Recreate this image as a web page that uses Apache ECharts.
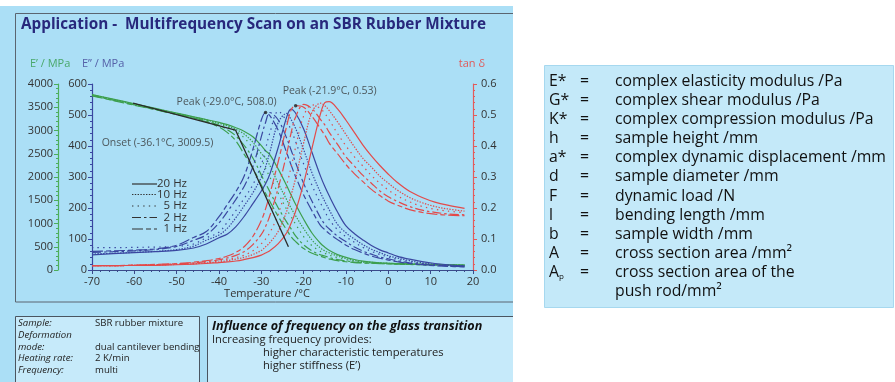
<!DOCTYPE html>
<html>
<head>
<meta charset="utf-8">
<script src="https://cdn.jsdelivr.net/npm/echarts@6/dist/echarts.min.js"></script>
<style>
html,body{margin:0;padding:0;background:#fff;}
#c{width:895px;height:382px;}
</style>
</head>
<body>
<div id="c"></div>
<script>
// ---------- DATA ----------
const temps = [-70,-65,-60,-55,-50,-46,-43,-40,-38,-36,-34,-32,-30,-29,-28,-26,-24,-23,-22,-20,-18,-16,-15,-14,-12,-10,-8,-6,-4,-2,0,2,5,8,11,14,18];

// E' (storage modulus, MPa)
const eStorage20 = [3775,3675,3575,3475,3375,3295,3235,3175,3125,3060,2980,2865,2675,2565,2480,2170,1810,1620,1430,1090,790,570,490,425,330,272,225,190,168,155,146,140,132,125,119,113,108];
const eStorage10 = [3768,3668,3568,3468,3368,3288,3228,3155,3098,3023,2918,2748,2505,2410,2250,1860,1510,1335,1180,890,640,470,410,370,300,245,205,180,164,152,144,137,129,122,116,111,106];
const eStorage5  = [3760,3660,3560,3460,3360,3280,3220,3140,3075,2980,2840,2620,2380,2190,2000,1650,1300,1150,1000,720,520,400,360,320,265,222,185,170,155,147,140,134,126,119,113,109,104];
const eStorage2  = [3752,3652,3552,3452,3352,3272,3202,3110,3017,2882,2672,2410,2040,1860,1685,1335,1030,890,745,540,410,325,300,270,225,195,171,156,148,141,134,128,121,115,111,107,102];
const eStorage1  = [3745,3645,3545,3445,3345,3265,3185,3075,2955,2775,2480,2190,1825,1650,1475,1150,860,720,620,460,360,295,265,240,200,178,160,151,143,137,131,126,119,113,109,105,100];

// E'' (loss modulus, MPa)
const eLoss20 = [49,53,56,59,63,71,84,104,116,140,174,214,255,278,309,396,494,519,508,455,378,302,269,240,187,142,117,97,79,65,55,45,35,27,21,17,13];
const eLoss10 = [52,54,57,60,66,77,96,113,135,169,208,249,299,333,380,476,505,486,460,388,312,249,221,195,147,120,100,82,67,56,46,39,30,23,18,15,12];
const eLoss5  = [72,72,73,74,76,84,104,122,155,192,232,275,340,391,442,512,480,452,418,342,272,215,190,163,130,107,89,73,60,50,42,35,27,21,17,14,12];
const eLoss2  = [57,59,62,66,76,96,113,152,188,228,271,333,430,476,508,484,425,388,350,279,221,168,147,133,109,91,74,61,51,42,36,30,23,18,15,13,11];
const eLoss1  = [60,62,64,68,80,105,124,172,212,253,305,389,484,508,498,450,378,340,304,242,190,143,130,118,98,80,66,55,45,38,32,27,21,17,14,12,10];

// tan delta
const tanD20 = [.014,.014,.015,.015,.017,.019,.021,.024,.026,.029,.034,.040,.048,.055,.062,.085,.12,.15,.185,.28,.395,.505,.54,.543,.52,.483,.443,.403,.368,.337,.309,.284,.254,.234,.219,.209,.199];
const tanD10 = [.014,.014,.015,.016,.018,.020,.023,.026,.030,.035,.041,.050,.063,.075,.088,.125,.19,.24,.29,.41,.51,.538,.53,.515,.478,.437,.397,.36,.332,.303,.28,.259,.234,.217,.205,.197,.19];
const tanD5  = [.014,.014,.015,.016,.019,.021,.024,.029,.034,.040,.048,.062,.085,.10,.12,.18,.275,.33,.39,.497,.533,.52,.505,.485,.44,.40,.365,.335,.305,.28,.258,.24,.22,.205,.196,.19,.185];
const tanD2  = [.014,.014,.015,.017,.020,.023,.027,.033,.039,.047,.060,.082,.115,.14,.175,.265,.375,.44,.49,.534,.52,.485,.468,.445,.405,.365,.335,.305,.28,.255,.236,.222,.205,.193,.186,.181,.178];
const tanD1  = [.014,.014,.016,.018,.021,.025,.030,.037,.045,.057,.076,.108,.16,.197,.245,.35,.465,.515,.53,.525,.495,.455,.435,.41,.375,.34,.31,.285,.26,.24,.222,.21,.195,.186,.18,.177,.175];

// onset tangent construction and evaluation points
const onsetLineT = [-60.3, -36.1, -23.6];
const onsetLineV = [3591, 3009.5, 500];
const peakLoss = [-29.0, 508.0];
const peakTan = [-21.9, 0.53];
const onsetPt = [-36.1, 3009.5];

const freqLabels = ['20 Hz','10 Hz','5 Hz','2 Hz','1 Hz'];
const xTicks = {min:-70, max:20, step:10};

// ---------- STYLE ----------
const FONT = "'Open Sans','Noto Sans',sans-serif";
const GREEN = '#3d9f4e', BLUE = '#3a47a0', RED = '#e34a4a';
const dashes = ['solid', [1.4,1.4], [1.4,4.2], [9,3,2.5,3], [11,3,5,3]];

function pairs(vals){ return temps.map((t,i)=>[t, vals[i]]); }
function mk(name, vals, color, axis, di){
  return {name, type:'line', yAxisIndex:axis, data:pairs(vals), showSymbol:false, smooth:0.35,
    lineStyle:{color, width:1.2, type:dashes[di]}, z:3, silent:true};
}

const series = [];
[eStorage20,eStorage10,eStorage5,eStorage2,eStorage1].forEach((v,i)=>series.push(mk("E' "+freqLabels[i], v, GREEN, 1, i)));
[eLoss20,eLoss10,eLoss5,eLoss2,eLoss1].forEach((v,i)=>series.push(mk("E'' "+freqLabels[i], v, BLUE, 0, i)));
[tanD20,tanD10,tanD5,tanD2,tanD1].forEach((v,i)=>series.push(mk("tan "+freqLabels[i], v, RED, 2, i)));

series.push({type:'line', yAxisIndex:1, data:onsetLineT.map((t,i)=>[t,onsetLineV[i]]), showSymbol:false,
  lineStyle:{color:'#2a2a2a', width:1.3}, z:4, silent:true});

const lblStyle = {show:true, color:'#333', fontSize:10.5, fontFamily:FONT};
series.push({type:'scatter', yAxisIndex:0, data:[peakLoss], symbol:'circle', symbolSize:3.5,
  itemStyle:{color:'#222'}, z:5, label:Object.assign({}, lblStyle, {position:'inside', offset:[-39,-11],
  formatter: p => 'Peak (' + p.value[0].toFixed(1) + '°C, ' + p.value[1].toFixed(1) + ')'})});
series.push({type:'scatter', yAxisIndex:2, data:[peakTan], symbol:'circle', symbolSize:3.5,
  itemStyle:{color:'#222'}, z:5, label:Object.assign({}, lblStyle, {position:'inside', offset:[34,-15],
  formatter: p => 'Peak (' + p.value[0].toFixed(1) + '°C, ' + p.value[1].toFixed(2) + ')'})});
series.push({type:'scatter', yAxisIndex:1, data:[onsetPt], symbol:'circle', symbolSize:0.1,
  itemStyle:{color:'#222'}, z:5, label:Object.assign({}, lblStyle, {position:'inside', offset:[-78,13],
  formatter: p => 'Onset (' + p.value[0].toFixed(1) + '°C, ' + p.value[1].toFixed(1) + ')'})});

function yAx(min,max,interval,color,position,offset,fmt){
  return {type:'value', min, max, interval, position, offset,
    axisLine:{show:true, onZero:false, lineStyle:{color, width:1.2}},
    axisTick:{show:true, length:4, lineStyle:{color}},
    minorTick:{show:true, splitNumber:5, length:2, lineStyle:{color}},
    splitLine:{show:false},
    axisLabel:{color:'#333', fontSize:11, fontFamily:FONT, margin: position==='right'?8:5, formatter:fmt}};
}

// ---------- GRAPHIC (panels & texts) ----------
const g = [];
g.push({type:'rect', shape:{x:0,y:6,width:513,height:376}, style:{fill:'#abdff6'}, z:-100, silent:true});
g.push({type:'rect', shape:{x:15.5,y:13.5,width:520,height:288.5}, style:{fill:'none', stroke:'#5a6570', lineWidth:1}, z:-90, silent:true});
g.push({type:'rect', shape:{x:15.5,y:316.5,width:184,height:70}, style:{fill:'#c6eafa', stroke:'#4a5560', lineWidth:1}, z:-90, silent:true});
g.push({type:'rect', shape:{x:207.5,y:316.5,width:320,height:70}, style:{fill:'#c6eafa', stroke:'#4a5560', lineWidth:1}, z:-90, silent:true});
g.push({type:'rect', shape:{x:544.5,y:65.5,width:349,height:242}, style:{fill:'#c4e9f9', stroke:'#a6d8ef', lineWidth:1}, z:-100, silent:true});
// cover overflow of frame beyond panel
g.push({type:'rect', shape:{x:513,y:0,width:31,height:382}, style:{fill:'#fff'}, z:-80, silent:true});

function txt(x,y,text,opt){
  g.push({type:'text', x, y, style:Object.assign({text, fill:'#222', font:'11px '+FONT, textVerticalAlign:'middle', textAlign:'left'}, opt||{}), z:10, silent:true});
}
txt(21,25,'Application -  Multifrequency Scan on an SBR Rubber Mixture',{fill:'#28287c', font:'bold 15.3px '+FONT});
txt(30,64,'E\u2019 / MPa',{fill:'#49a86a', font:'11px '+FONT});
txt(82,64,'E\u201D / MPa',{fill:'#5560a8', font:'11px '+FONT});
txt(485,64,'tan \u03B4',{fill:'#e05a5a', font:'11px '+FONT, textAlign:'right'});
txt(267,294,'Temperature /\u00B0C',{fill:'#333', font:'11px '+FONT, textAlign:'center'});

// legend
const legY = [184,194.5,206,217.5,229];
freqLabels.forEach((f,i)=>{
  g.push({type:'line', shape:{x1:132,y1:legY[i],x2:157,y2:legY[i]},
    style:{stroke:'#333', lineWidth:1.2, lineDash: dashes[i]==='solid'?null:dashes[i]}, z:10, silent:true});
  txt(187,legY[i],f,{fill:'#333', font:'11.5px '+FONT, textAlign:'right'});
});

// bottom left box
const bl = [['Sample:','SBR rubber mixture'],['Deformation',''],['mode:','dual cantilever bending'],['Heating rate:','2 K/min'],['Frequency:','multi']];
bl.forEach((r,i)=>{
  const y = 323.5 + i*11.7;
  txt(18,y,r[0],{font:'italic 9.6px '+FONT, fill:'#222'});
  if(r[1]) txt(95,y,r[1],{font:'9.6px '+FONT, fill:'#222'});
});
// bottom right box
txt(212,326,'Influence of frequency on the glass transition',{font:'italic bold 12.6px '+FONT, fill:'#111'});
txt(212,340,'Increasing frequency provides:',{font:'11.2px '+FONT, fill:'#222'});
txt(263,352.5,'higher characteristic temperatures',{font:'11.2px '+FONT, fill:'#222'});
txt(263,365.5,'higher stiffness (E\u2019)',{font:'11.2px '+FONT, fill:'#222'});

// right panel symbol list
const symList = ['E*','G*','K*','h','a*','d','F','l','b','A','{a|A}{s|p}',''];
const descList = ['complex elasticity modulus /Pa','complex shear modulus /Pa','complex compression modulus /Pa','sample height /mm','complex dynamic displacement /mm','sample diameter /mm','dynamic load /N','bending length /mm','sample width /mm','cross section area /mm\u00B2','cross section area of the','push rod/mm\u00B2'];
descList.forEach((d,i)=>{
  const y = 81.7 + i*19.05;
  if(symList[i]) g.push({type:'text', x:549, y, style:{text:symList[i], fill:'#111', font:'15.8px '+FONT, textVerticalAlign:'middle',
      rich:{a:{fontSize:15.8, fontFamily:FONT, fill:'#111'}, s:{fontSize:8, fontFamily:FONT, fill:'#111', padding:[9,0,0,0]}}}, z:10, silent:true});
  if(i<11) txt(580,y,'=',{font:'15.8px '+FONT, fill:'#111'});
  txt(615,y,d,{font:'15.8px '+FONT, fill:'#111'});
});

const chart = echarts.init(document.getElementById('c'), null, {renderer:'canvas'});
chart.setOption({
  animation:false,
  backgroundColor:'#ffffff',
  grid:{left:92, top:84, width:381, height:186},
  xAxis:{type:'value', min:xTicks.min, max:xTicks.max, interval:xTicks.step,
    axisLine:{onZero:false, lineStyle:{color:'#3a4a8a', width:1.2}},
    axisTick:{length:4, lineStyle:{color:'#3a4a8a'}},
    minorTick:{show:true, splitNumber:5, length:2, lineStyle:{color:'#3a4a8a'}},
    splitLine:{show:false},
    axisLabel:{color:'#333', fontSize:11, fontFamily:FONT, margin:6}},
  yAxis:[
    yAx(0,600,100,BLUE,'left',0, v=>String(v)),
    yAx(0,4000,500,'#4cae5c','left',34, v=>String(v)),
    yAx(0,0.6,0.1,'#e35a5a','right',0, v=>v.toFixed(1))
  ],
  graphic:{elements:g},
  series
});
</script>
</body>
</html>
